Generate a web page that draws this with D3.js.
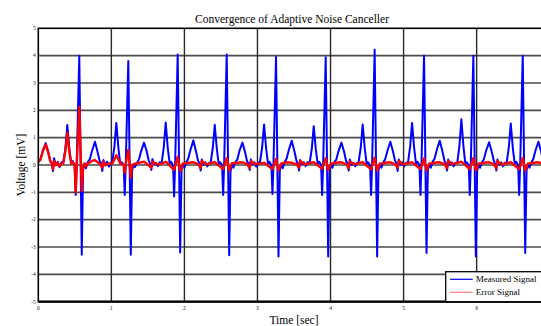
<!DOCTYPE html>
<html>
<head>
<meta charset="utf-8">
<script src="https://cdn.jsdelivr.net/npm/d3@7"></script>
<style>
  body { margin: 0; background: #fff; }
  text { font-family: "Liberation Serif", "DejaVu Serif", serif; }
</style>
</head>
<body>
<figure id="chart" style="margin:0"></figure>
<script>
// tick labels
const timeTicks = [0, 1, 2, 3, 4, 5, 6];
const voltTicks = [-5, -4, -3, -2, -1, 0, 1, 2, 3, 4, 5];
const seriesNames = ["Measured Signal", "Error Signal"];

// measured ECG [time s, voltage mV], one beat per line
const measured = [
  [0.000,0.12],[0.031,0.22],[0.061,0.52],[0.101,0.8],[0.136,0.48],[0.166,0.14],[0.186,0.06],[0.201,-0.22],[0.216,0.25],[0.241,-0.02],[0.266,0.12],[0.291,-0.08],[0.316,0.1],
  [0.341,0.08],[0.371,0.62],[0.397,1.46],[0.426,0.58],[0.451,0.05],[0.471,0.14],[0.498,-0.02],[0.512,-1.1],[0.526,0.06],[0.561,4.0],[0.595,-3.28],[0.613,-0.18],[0.633,0.06],[0.653,-0.12],[0.676,0.1],[0.706,0.22],[0.736,0.52],[0.776,0.85],[0.811,0.48],[0.841,0.14],[0.861,0.06],[0.876,-0.22],[0.891,0.18],[0.916,-0.02],[0.941,0.12],[0.966,-0.06],[0.991,0.08],
  [1.012,0.1],[1.042,0.68],[1.068,1.54],[1.097,0.62],[1.122,0.04],[1.142,0.1],[1.169,0.0],[1.183,-1.1],[1.197,0.04],[1.232,3.8],[1.266,-3.28],[1.284,-0.22],[1.304,0.04],[1.324,-0.08],[1.347,0.06],[1.377,0.2],[1.407,0.5],[1.447,0.82],[1.482,0.52],[1.512,0.16],[1.532,0.04],[1.547,-0.18],[1.562,0.22],[1.587,0.02],[1.612,0.08],[1.637,-0.04],[1.662,0.1],
  [1.688,0.06],[1.718,0.66],[1.744,1.55],[1.773,0.6],[1.798,0.06],[1.818,0.12],[1.845,-0.03],[1.859,-1.15],[1.873,0.05],[1.908,4.04],[1.942,-3.2],[1.960,-0.2],[1.980,0.05],[2.000,-0.1],[2.023,0.08],[2.053,0.24],[2.083,0.56],[2.123,0.9],[2.158,0.5],[2.188,0.15],[2.208,0.05],[2.223,-0.2],[2.238,0.2],[2.263,0.0],[2.288,0.1],[2.313,-0.05],[2.338,0.08],
  [2.359,0.08],[2.389,0.64],[2.415,1.47],[2.444,0.58],[2.469,0.04],[2.489,0.1],[2.516,0.0],[2.530,-1.1],[2.544,0.05],[2.579,4.04],[2.613,-3.3],[2.631,-0.24],[2.651,0.06],[2.671,-0.1],[2.694,0.1],[2.724,0.2],[2.754,0.52],[2.794,0.82],[2.829,0.48],[2.859,0.12],[2.879,0.06],[2.894,-0.18],[2.909,0.2],[2.934,0.0],[2.959,0.1],[2.984,-0.06],[3.009,0.08],
  [3.034,0.1],[3.064,0.64],[3.090,1.48],[3.119,0.6],[3.144,0.06],[3.164,0.12],[3.191,-0.02],[3.205,-1.06],[3.219,0.05],[3.254,3.95],[3.288,-3.35],[3.306,-0.2],[3.326,0.04],[3.346,-0.12],[3.369,0.08],[3.399,0.24],[3.429,0.55],[3.469,0.89],[3.504,0.52],[3.534,0.15],[3.554,0.04],[3.569,-0.2],[3.584,0.18],[3.609,0.02],[3.634,0.1],[3.659,-0.04],[3.684,0.1],
  [3.714,0.08],[3.744,0.6],[3.770,1.42],[3.799,0.56],[3.824,0.05],[3.844,0.12],[3.871,0.0],[3.885,-1.1],[3.899,0.06],[3.934,3.94],[3.968,-3.35],[3.986,-0.22],[4.006,0.05],[4.026,-0.1],[4.049,0.1],[4.079,0.2],[4.109,0.5],[4.149,0.82],[4.184,0.5],[4.214,0.14],[4.234,0.05],[4.249,-0.2],[4.264,0.2],[4.289,0.0],[4.314,0.08],[4.339,-0.05],[4.364,0.08],
  [4.384,0.1],[4.414,0.64],[4.440,1.48],[4.469,0.6],[4.494,0.05],[4.514,0.1],[4.541,-0.02],[4.555,-1.1],[4.569,0.05],[4.604,4.22],[4.638,-3.35],[4.656,-0.2],[4.676,0.06],[4.696,-0.1],[4.719,0.08],[4.749,0.22],[4.779,0.52],[4.819,0.85],[4.854,0.5],[4.884,0.15],[4.904,0.05],[4.919,-0.22],[4.934,0.2],[4.959,0.0],[4.984,0.1],[5.009,-0.05],[5.034,0.08],
  [5.060,0.08],[5.090,0.68],[5.116,1.54],[5.145,0.62],[5.170,0.05],[5.190,0.12],[5.217,0.0],[5.231,-1.1],[5.245,0.05],[5.280,4.0],[5.314,-3.22],[5.332,-0.2],[5.352,0.05],[5.372,-0.1],[5.395,0.1],[5.425,0.24],[5.455,0.56],[5.495,0.89],[5.530,0.52],[5.560,0.15],[5.580,0.05],[5.595,-0.2],[5.610,0.2],[5.635,0.0],[5.660,0.1],[5.685,-0.05],[5.710,0.08],
  [5.735,0.08],[5.765,0.72],[5.791,1.67],[5.820,0.66],[5.845,0.05],[5.865,0.1],[5.892,0.0],[5.906,-1.1],[5.920,0.05],[5.955,4.0],[5.989,-3.35],[6.007,-0.22],[6.027,0.05],[6.047,-0.1],[6.070,0.08],[6.100,0.22],[6.130,0.52],[6.170,0.83],[6.205,0.5],[6.235,0.15],[6.255,0.05],[6.270,-0.2],[6.285,0.2],[6.310,0.0],[6.335,0.1],[6.360,-0.05],[6.385,0.08],
  [6.411,0.08],[6.441,0.66],[6.467,1.52],[6.496,0.6],[6.521,0.05],[6.541,0.12],[6.568,0.0],[6.582,-1.1],[6.596,0.05],[6.631,4.0],[6.665,-3.22],[6.683,-0.2],[6.703,0.05],[6.723,-0.1],[6.746,0.08],[6.776,0.22],[6.806,0.54],[6.846,0.85],[6.881,0.5],[6.911,0.15],[6.931,0.05],[6.946,-0.2],[6.961,0.2],[6.986,0.0],[7.011,0.1],[7.036,-0.05],[7.061,0.08]
];

// error signal of the canceller [time s, voltage mV]
const errorSig = [
  [0.000,0.1],[0.031,0.2],[0.061,0.5],[0.101,0.75],[0.136,0.45],[0.166,0.12],[0.186,0.05],[0.201,-0.15],[0.216,0.15],[0.241,0.0],[0.266,0.08],[0.291,-0.05],[0.316,0.05],
  [0.341,0.05],[0.371,0.5],[0.397,1.17],[0.426,0.45],[0.451,0.05],[0.471,0.1],[0.498,0.0],[0.512,-1.0],[0.526,0.0],[0.561,2.12],[0.595,-0.95],[0.613,-0.1],[0.633,0.05],[0.653,-0.05],[0.676,0.05],[0.706,0.1],[0.736,0.15],[0.776,0.18],[0.811,0.1],[0.841,0.05],[0.876,-0.1],[0.891,0.12],[0.916,0.0],[0.966,0.05],
  [1.012,0.05],[1.042,0.2],[1.068,0.36],[1.097,0.2],[1.122,0.05],[1.169,0.0],[1.183,-0.3],[1.197,0.05],[1.232,0.55],[1.266,-0.45],[1.284,0.0],[1.324,0.05],[1.377,0.08],[1.447,0.12],[1.482,0.05],[1.547,-0.1],[1.562,0.12],[1.637,0.02],[1.688,0.05],
  [1.744,0.12],[1.859,-0.18],[1.908,0.3],[1.942,-0.22],[1.978,0.05],[2.053,0.08],[2.123,0.1],[2.188,0.03],[2.223,-0.12],[2.238,0.15],[2.298,0.02],
  [2.415,0.1],[2.530,-0.15],[2.579,0.25],[2.613,-0.2],[2.649,0.06],[2.724,0.08],[2.794,0.1],[2.859,0.02],[2.894,-0.12],[2.909,0.14],[2.969,0.03],
  [3.090,0.08],[3.205,-0.15],[3.254,0.22],[3.288,-0.2],[3.324,0.05],[3.399,0.1],[3.469,0.08],[3.534,0.03],[3.569,-0.1],[3.584,0.15],[3.644,0.02],
  [3.770,0.1],[3.885,-0.14],[3.934,0.25],[3.968,-0.18],[4.004,0.05],[4.079,0.08],[4.149,0.1],[4.214,0.03],[4.249,-0.12],[4.264,0.13],[4.324,0.03],
  [4.440,0.1],[4.555,-0.16],[4.604,0.27],[4.638,-0.2],[4.674,0.04],[4.749,0.08],[4.819,0.1],[4.884,0.02],[4.919,-0.1],[4.934,0.15],[4.994,0.02],
  [5.116,0.1],[5.231,-0.15],[5.280,0.24],[5.314,-0.2],[5.350,0.05],[5.425,0.08],[5.495,0.1],[5.560,0.03],[5.595,-0.12],[5.610,0.15],[5.670,0.03],
  [5.791,0.12],[5.906,-0.15],[5.955,0.25],[5.989,-0.2],[6.025,0.05],[6.100,0.08],[6.170,0.1],[6.235,0.03],[6.270,-0.12],[6.285,0.14],[6.345,0.02],
  [6.467,0.1],[6.582,-0.15],[6.631,0.25],[6.665,-0.2],[6.701,0.05],[6.776,0.08],[6.846,0.1],[6.911,0.03],[6.946,-0.12],[6.961,0.15],[7.021,0.02]
];

const width = 541;
const height = 326;
const plotLeft = 38.3, plotTop = 28.3, plotBottom = 301.7;

const svg = d3.select("figure#chart")
  .append("svg")
  .attr("width", width)
  .attr("height", height)
  .style("display", "block");

svg.append("rect").attr("width", width).attr("height", height).attr("fill", "#fff");

// axes run past the right side of the picture (cropped)
const x = d3.scaleLinear().domain([0, 7]).range([plotLeft, 549.7]);
const y = d3.scaleLinear().domain([-5, 5]).range([plotBottom, plotTop]);

svg.append("defs").append("clipPath").attr("id", "plot")
  .append("rect")
  .attr("x", plotLeft).attr("y", plotTop)
  .attr("width", x(7) - plotLeft).attr("height", plotBottom - plotTop);

// grid
svg.append("g")
  .selectAll("line")
  .data(voltTicks.slice(1, -1))
  .enter()
  .append("line")
  .attr("x1", plotLeft).attr("x2", x(7))
  .attr("y1", d => y(d)).attr("y2", d => y(d))
  .attr("stroke", "#4a4a4a")
  .attr("stroke-width", 1.7);

svg.append("g")
  .selectAll("line")
  .data(timeTicks.slice(1))
  .enter()
  .append("line")
  .attr("x1", d => x(d)).attr("x2", d => x(d))
  .attr("y1", plotTop).attr("y2", plotBottom)
  .attr("stroke", "#2a2a2a")
  .attr("stroke-width", 1.4);

// signals
const line = d3.line()
  .x(d => x(d[0]))
  .y(d => y(d[1]));

const plot = svg.append("g").attr("clip-path", "url(#plot)");

plot.append("path")
  .datum(measured)
  .attr("d", line)
  .attr("fill", "none")
  .attr("stroke", "#0000ff")
  .attr("stroke-width", 2.0)
  .attr("stroke-linejoin", "round");

plot.append("path")
  .datum(errorSig)
  .attr("d", line)
  .attr("fill", "none")
  .attr("stroke", "#ff0000")
  .attr("stroke-width", 2.4)
  .attr("stroke-linejoin", "round");

// frame
svg.append("rect")
  .attr("x", plotLeft).attr("y", plotTop)
  .attr("width", x(7) - plotLeft).attr("height", plotBottom - plotTop)
  .attr("fill", "none")
  .attr("stroke", "#000")
  .attr("stroke-width", 1.6);

svg.append("line")
  .attr("x1", plotLeft).attr("x2", width)
  .attr("y1", plotBottom).attr("y2", plotBottom)
  .attr("stroke", "#000")
  .attr("stroke-width", 2.2);

// tick labels
svg.append("g")
  .selectAll("text")
  .data(timeTicks)
  .enter()
  .append("text")
  .attr("x", d => x(d))
  .attr("y", plotBottom + 8.5)
  .attr("text-anchor", "middle")
  .style("font-size", "5.5px")
  .attr("fill", "#222")
  .text(d => d);

svg.append("g")
  .selectAll("text")
  .data(voltTicks)
  .enter()
  .append("text")
  .attr("x", plotLeft - 2.5)
  .attr("y", d => y(d) + 1.8)
  .attr("text-anchor", "end")
  .style("font-size", "5.5px")
  .attr("fill", "#222")
  .text(d => d);

// titles
svg.append("text")
  .attr("x", 292).attr("y", 22.5)
  .attr("text-anchor", "middle")
  .style("font-size", "11.5px")
  .text("Convergence of Adaptive Noise Canceller");

svg.append("text")
  .attr("x", 294).attr("y", 324)
  .attr("text-anchor", "middle")
  .style("font-size", "11.5px")
  .text("Time [sec]");

svg.append("text")
  .attr("transform", "translate(25," + y(0) + ") rotate(-90)")
  .attr("text-anchor", "middle")
  .style("font-size", "11.5px")
  .text("Voltage [mV]");

// legend
const legend = svg.append("g");
legend.append("rect")
  .attr("x", 445.7).attr("y", 271.7)
  .attr("width", 110).attr("height", plotBottom - 271.7)
  .attr("fill", "#fff")
  .attr("stroke", "#000")
  .attr("stroke-width", 1.3);

const legendColors = ["#0000ff", "#ff7a7a"];
const legendY = [279.3, 292.3];

seriesNames.forEach((name, i) => {
  legend.append("line")
    .attr("x1", 450).attr("x2", 472.7)
    .attr("y1", legendY[i]).attr("y2", legendY[i])
    .attr("stroke", legendColors[i])
    .attr("stroke-width", 1.2);
  legend.append("text")
    .attr("x", 475.7).attr("y", legendY[i] + 3)
    .style("font-size", "9px")
    .text(name);
});
</script>
</body>
</html>
